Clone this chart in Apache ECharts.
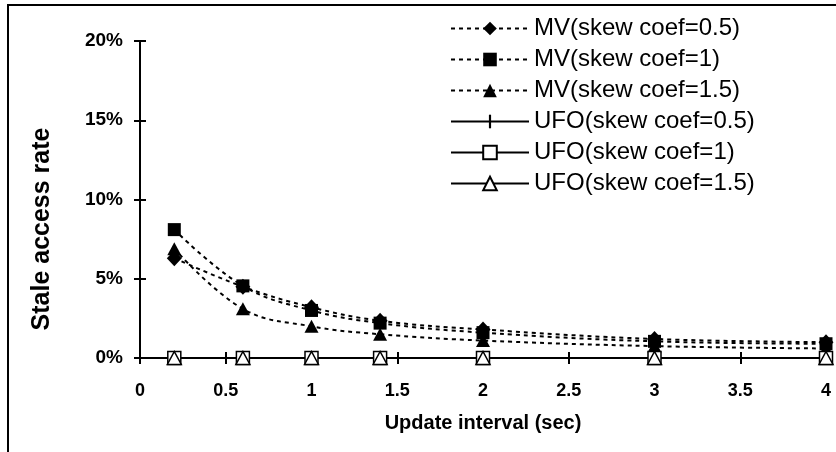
<!DOCTYPE html>
<html>
<head>
<meta charset="utf-8">
<script src="https://cdn.jsdelivr.net/npm/echarts@6/dist/echarts.min.js"></script>
<style>
html,body{margin:0;padding:0;background:#fff;}
#c{width:836px;height:452px;}
</style>
</head>
<body>
<div id="c"></div>
<script>
// ---- data ----
var intervals = [0.2, 0.6, 1, 1.4, 2, 3, 4];
var mvSkew05 = [6.3, 4.5, 3.2, 2.35, 1.8, 1.2, 1.0];
var mvSkew1  = [8.1, 4.55, 3.0, 2.2, 1.6, 1.05, 0.9];
var mvSkew15 = [6.9, 3.1, 2.0, 1.5, 1.1, 0.75, 0.6];
var ufoSkew05 = [0, 0, 0, 0, 0, 0, 0];
var ufoSkew1  = [0, 0, 0, 0, 0, 0, 0];
var ufoSkew15 = [0, 0, 0, 0, 0, 0, 0];
var seriesNames = ['MV(skew coef=0.5)', 'MV(skew coef=1)', 'MV(skew coef=1.5)',
                   'UFO(skew coef=0.5)', 'UFO(skew coef=1)', 'UFO(skew coef=1.5)'];
var xTitle = 'Update interval (sec)';
var yTitle = 'Stale access rate';

function pairs(vals){ return intervals.map(function(x,i){ return [x, vals[i]]; }); }

var chart = echarts.init(document.getElementById('c'), null, {renderer:'canvas'});
var dash = {color:'#000', width:2, type:[4,4]};
var solid = {color:'#000', width:2, type:'solid'};
var plusPath = 'path://M0,0M10,10M4.2,0h1.6v10h-1.6z';

var option = {
  animation:false,
  backgroundColor:'#fff',
  grid:{left:140, right:10, top:41, bottom:94, containLabel:false},
  xAxis:[{
    type:'value', min:0, max:4, interval:0.5,
    axisLine:{show:true, onZero:false, lineStyle:{color:'#000', width:2}},
    axisTick:{show:true, inside:false, length:6, lineStyle:{color:'#000', width:2}},
    axisLabel:{color:'#000', fontFamily:'Liberation Sans', fontWeight:'bold', fontSize:18, margin:24},
    splitLine:{show:false}
  },{
    type:'value', min:0, max:4, interval:0.5, position:'bottom',
    axisLine:{show:false},
    axisTick:{show:true, inside:true, length:6, lineStyle:{color:'#000', width:2}},
    axisLabel:{show:false}, splitLine:{show:false}
  }],
  yAxis:[{
    type:'value', min:0, max:20, interval:5,
    axisLine:{show:true, onZero:false, lineStyle:{color:'#000', width:2}},
    axisTick:{show:true, inside:false, length:6, lineStyle:{color:'#000', width:2}},
    axisLabel:{color:'#000', fontFamily:'Liberation Sans', fontWeight:'bold', fontSize:19, margin:17, formatter:'{value}%'},
    splitLine:{show:false}
  },{
    type:'value', min:0, max:20, interval:5, position:'left',
    axisLine:{show:false},
    axisTick:{show:true, inside:true, length:6, lineStyle:{color:'#000', width:2}},
    axisLabel:{show:false}, splitLine:{show:false}
  }],
  legend:{
    orient:'vertical', left:445, top:8,
    itemWidth:78, itemHeight:17, itemGap:0,
    textStyle:{color:'#000', fontFamily:'Liberation Sans', fontSize:24, lineHeight:31},
    data:seriesNames
  },
  graphic:[
    {type:'rect', silent:true, shape:{x:8, y:5, width:900, height:700},
     style:{fill:'none', stroke:'#000', lineWidth:2}},
    {type:'text', x:42, y:229, rotation:Math.PI/2,
     style:{text:yTitle, fill:'#000', font:'bold 25px "Liberation Sans"', align:'center', verticalAlign:'middle'}},
    {type:'text', x:483, y:423,
     style:{text:xTitle, fill:'#000', font:'bold 20px "Liberation Sans"', align:'center', verticalAlign:'middle'}}
  ],
  series:[
    {name:seriesNames[0], type:'line', smooth:0.4, data:pairs(mvSkew05), symbol:'diamond', symbolSize:[15,16],
     lineStyle:dash, itemStyle:{color:'#000'}},
    {name:seriesNames[1], type:'line', smooth:0.4, data:pairs(mvSkew1), symbol:'rect', symbolSize:13,
     lineStyle:dash, itemStyle:{color:'#000'}},
    {name:seriesNames[2], type:'line', smooth:0.4, data:pairs(mvSkew15), symbol:'triangle', symbolSize:[14,13],
     lineStyle:dash, itemStyle:{color:'#000'}},
    {name:seriesNames[3], type:'line', data:pairs(ufoSkew05), symbol:plusPath, symbolSize:[13,13],
     lineStyle:solid, itemStyle:{color:'#000'}},
    {name:seriesNames[4], type:'line', data:pairs(ufoSkew1), symbol:'rect', symbolSize:13,
     lineStyle:solid, itemStyle:{color:'#fff', borderColor:'#000', borderWidth:1.5}},
    {name:seriesNames[5], type:'line', data:pairs(ufoSkew15), symbol:'triangle', symbolSize:[14,13],
     lineStyle:solid, itemStyle:{color:'#fff', borderColor:'#000', borderWidth:1.5}}
  ]
};
chart.setOption(option);
</script>
</body>
</html>
